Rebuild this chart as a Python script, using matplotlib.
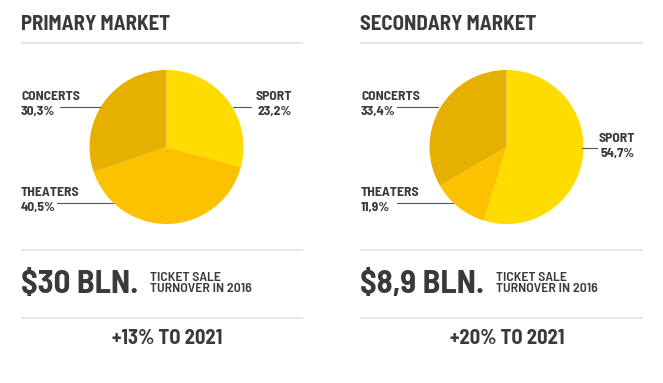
import matplotlib
matplotlib.use("Agg")
import matplotlib.pyplot as plt

# ---- data ----
markets = ["PRIMARY MARKET", "SECONDARY MARKET"]
segments = ["SPORT", "THEATERS", "CONCERTS"]
# wedge shares as drawn in the picture
primary_shares = [29.2, 40.5, 30.3]
secondary_shares = [54.7, 11.9, 33.4]
# printed labels
primary_labels = ["23,2%", "40,5%", "30,3%"]
secondary_labels = ["54,7%", "11,9%", "33,4%"]
turnover = ["$30 BLN.", "$8,9 BLN."]
turnover_note = "TICKET SALE\nTURNOVER IN 2016"
growth = ["+13% TO 2021", "+20% TO 2021"]

colors = ["#FEDC00", "#FCC200", "#E6B000"]
text_c = "#3a3a3a"
line_c = "#dedede"

W, H = 663, 383
fig = plt.figure(figsize=(W / 100, H / 100), dpi=100)
ax = fig.add_axes([0, 0, 1, 1])

def Y(y):
    return H - y

FAM = ["Barlow Semi Condensed", "DejaVu Sans"]
FONT = dict(family=FAM, fontweight="bold", color=text_c)

def setlims():
    ax.set_xlim(0, W)
    ax.set_ylim(0, H)
    ax.set_aspect("auto")

panels = [
    dict(x0=21, x1=303, cx=166.5, shares=primary_shares, labels=primary_labels,
         lab=[  # (segment idx, text x, ha, y1, y2, line x0, line x1, line y)
             (0, 292, "right", 97, 112, 233, 251, 107),
             (1, 21, "left", 192, 207, 57, 113, 203),
             (2, 21, "left", 97, 112, 60, 100, 107),
         ]),
    dict(x0=360, x1=643, cx=506.5, shares=secondary_shares, labels=secondary_labels,
         lab=[
             (0, 635, "right", 138, 153, 582, 597, 148),
             (1, 361, "left", 192, 207, 397, 453, 203),
             (2, 361, "left", 97, 112, 397, 438, 107),
         ]),
]

for i, p in enumerate(panels):
    ax.pie(p["shares"], colors=colors, startangle=90, counterclock=False,
           center=(p["cx"], Y(147)), radius=77, frame=True,
           wedgeprops=dict(linewidth=0))
    setlims()
    # title
    ax.text(p["x0"], Y(24), markets[i], fontsize=15, va="center", ha="left", **FONT)
    for yy in (43, 250, 317.5):
        ax.plot([p["x0"], p["x1"]], [Y(yy), Y(yy)], color=line_c, lw=1.1, solid_capstyle="butt")
    # labels
    for (k, tx, ha, y1, y2, lx0, lx1, ly) in p["lab"]:
        ax.text(tx, Y(y1), segments[k], fontsize=9.8, va="center", ha=ha, **FONT)
        ax.text(tx, Y(y2), p["labels"][k], fontsize=9.8, va="center", ha=ha, **FONT)
        ax.plot([lx0, lx1], [Y(ly), Y(ly)], color="#555555", lw=0.8)
    # turnover
    t = ax.text(p["x0"], Y(284), turnover[i], fontsize=23.5, va="center", ha="left", **FONT)
    setlims()
    fig.canvas.draw()
    bb = t.get_window_extent()
    ax.text(bb.x1 + 12, Y(283.5), turnover_note, fontsize=10, va="center", ha="left",
            linespacing=0.95, family=FAM, fontweight="semibold", color=text_c)
    ax.text(p["cx"] + 0.5, Y(338), growth[i], fontsize=14.8, va="center",
            ha="center", **FONT)

setlims()
ax.axis("off")
fig.savefig("out.png", dpi=100, facecolor="white")
